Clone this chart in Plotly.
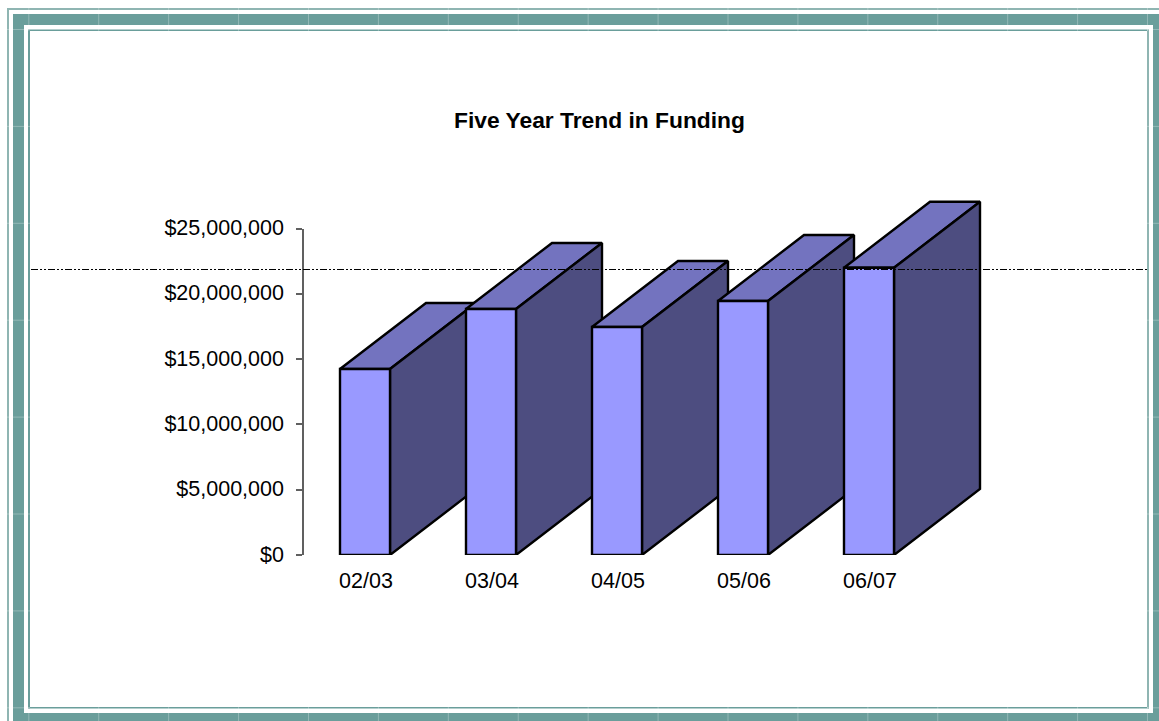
import plotly.graph_objects as go

W, H = 1159, 721

# ---- data ----
categories = ["02/03", "03/04", "04/05", "05/06", "06/07"]
funding = [14240000, 18840000, 17460000, 19450000, 21990000]
y_ticks = [0, 5000000, 10000000, 15000000, 20000000, 25000000]
y_labels = ["$0", "$5,000,000", "$10,000,000", "$15,000,000", "$20,000,000", "$25,000,000"]
title = "Five Year Trend in Funding"

# ---- layout geometry (pixels) ----
AX_LEFT, AX_RIGHT = 302, 932
AX_BOTTOM, AX_TOP = 555, 228.5
EXT_RIGHT, EXT_TOP = 1000, 190
STEP = (AX_RIGHT - AX_LEFT) / len(categories)
Y_MAX = y_ticks[-1]
PX_PER_VALUE = (AX_BOTTOM - AX_TOP) / Y_MAX
BAR_WIDTH = 50 / STEP
DEPTH_X = 86 / STEP
DEPTH_Y = 66 / PX_PER_VALUE

FRONT, TOP, SIDE = "#9999FF", "#7373BF", "#4D4D80"
BAND, LIGHT = "#6A9E9B", "#8FB5B2"
FONT = "Liberation Sans"
EDGE = 2.4


def px(x):
    return x / W


def py(y):
    return 1 - y / H


fig = go.Figure()

# depth faces, on a hidden pair of axes with the same scale but more room
for i, v in enumerate(funding):
    x0, x1 = i - BAR_WIDTH / 2, i + BAR_WIDTH / 2
    fig.add_trace(go.Scatter(
        x=[x0, x1, x1 + DEPTH_X, x0 + DEPTH_X, x0],
        y=[v, v, v + DEPTH_Y, v + DEPTH_Y, v],
        mode="lines", fill="toself", fillcolor=TOP,
        line=dict(color="black", width=EDGE), hoverinfo="skip", showlegend=False,
        xaxis="x", yaxis="y"))
    fig.add_trace(go.Scatter(
        x=[x1, x1, x1 + DEPTH_X, x1 + DEPTH_X, x1],
        y=[v, 0, DEPTH_Y, v + DEPTH_Y, v],
        mode="lines", fill="toself", fillcolor=SIDE,
        line=dict(color="black", width=EDGE), hoverinfo="skip", showlegend=False,
        xaxis="x", yaxis="y"))

# front faces
fig.add_trace(go.Bar(
    x=categories, y=funding, width=BAR_WIDTH,
    marker=dict(color=FRONT, line=dict(color="black", width=EDGE)),
    showlegend=False, xaxis="x2", yaxis="y2"))

shapes = []


def rect(x0, y0, x1, y1, color, layer="below"):
    shapes.append(dict(type="rect", xref="paper", yref="paper",
                       x0=px(x0), x1=px(x1), y0=py(y0), y1=py(y1),
                       fillcolor=color, line=dict(width=0), layer=layer))


# outer thin line
rect(7, 8, W, 10, LIGHT)
rect(7, 8, 9, H, LIGHT)
# thick band
rect(13, 14, W, 25, BAND)
rect(13, 14, 24, H, BAND)
rect(13, 713, W, H, BAND)
rect(1153, 14, W, H, BAND)
# inner frame
rect(28, 29.5, 1149, 31, BAND)
rect(28, 29.5, 30, 708.5, BAND)
rect(28, 707, 1149, 708.5, BAND)
rect(1147, 29.5, 1149, 708.5, LIGHT)

# faint tile seams across the frame
SEAM = "rgba(255,255,255,0.28)"
for k in range(17):
    x = 28.3 + 69.92 * k
    rect(x, 8, x + 1, 31, SEAM)
    rect(x, 707, x + 1, H, SEAM)
for k in range(8):
    y = 29 + 96.9 * k
    rect(7, y, 30, y + 1, SEAM)
    rect(1147, y, W, y + 1, SEAM)

# dash-dot reference line
shapes.append(dict(type="line", xref="paper", yref="paper",
                   x0=px(31), x1=px(1147), y0=py(269.5), y1=py(269.5),
                   line=dict(color="black", width=1, dash="7px,2px,2px,2px,2px,2px"),
                   layer="above"))

hidden = dict(visible=False, showgrid=False, zeroline=False, fixedrange=True, automargin=False)

fig.update_layout(
    template="none",
    width=W, height=H,
    autosize=False,
    margin=dict(l=0, r=0, t=0, b=0, pad=0),
    paper_bgcolor="white",
    plot_bgcolor="rgba(0,0,0,0)",
    showlegend=False,
    font=dict(family=FONT, size=21.5, color="black"),
    title=dict(text="<b>%s</b>" % title, x=px(599.5), xanchor="center",
               y=py(120), yanchor="middle", automargin=False,
               font=dict(family=FONT, size=22.8, color="black")),
    shapes=shapes,
    xaxis=dict(hidden, domain=[px(AX_LEFT), px(EXT_RIGHT)], anchor="y",
               range=[-0.5, -0.5 + (EXT_RIGHT - AX_LEFT) / STEP]),
    yaxis=dict(hidden, domain=[py(AX_BOTTOM), py(EXT_TOP)], anchor="x",
               range=[0, (AX_BOTTOM - EXT_TOP) / PX_PER_VALUE]),
    xaxis2=dict(domain=[px(AX_LEFT), px(AX_RIGHT)], anchor="y2", type="category",
                categoryorder="array", categoryarray=categories,
                range=[-0.5, len(categories) - 0.5], showgrid=False, zeroline=False,
                showline=False, ticks="", ticklabelstandoff=10, ticklabelshift=1,
                automargin=False, fixedrange=True,
                tickfont=dict(family=FONT, size=21.5, color="black")),
    yaxis2=dict(domain=[py(AX_BOTTOM), py(AX_TOP)], anchor="free", position=px(AX_LEFT + 1),
                range=[0, Y_MAX],
                tickvals=y_ticks, ticktext=y_labels, showgrid=False, zeroline=False,
                showline=True, linecolor="#606060", linewidth=1.5,
                ticks="outside", ticklen=6, tickwidth=1.5, tickcolor="#606060",
                ticklabelstandoff=8, ticklabelshift=-1, automargin=False, fixedrange=True,
                tickfont=dict(family=FONT, size=21.5, color="black")),
)

fig.write_html("out.html", config=dict(displayModeBar=False),
               post_script="document.body.style.margin='0';document.body.style.overflow='hidden';")
